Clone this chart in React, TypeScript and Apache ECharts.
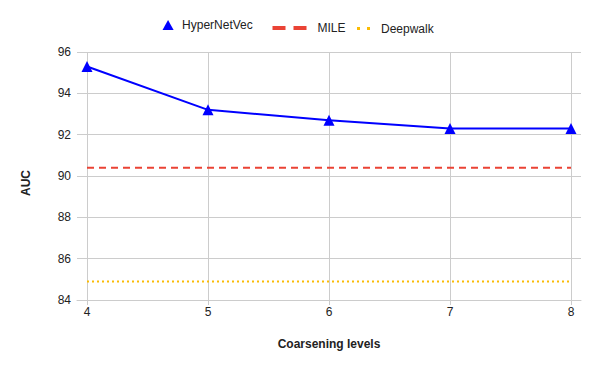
import React, { useEffect, useRef } from "react";
import * as echarts from "echarts";

const levels = [4, 5, 6, 7, 8];
const hyperNetVec = [95.3, 93.2, 92.7, 92.3, 92.3];
const mile = [90.4, 90.4, 90.4, 90.4, 90.4];
const deepwalk = [84.9, 84.9, 84.9, 84.9, 84.9];
const seriesNames = ["HyperNetVec", "MILE", "Deepwalk"];
const xName = "Coarsening levels";
const yName = "AUC";

const FONT = "'Liberation Sans', Arial, sans-serif";
const BLUE = "#0000ff";
const RED = "#ea4335";
const YELLOW = "#fbbc04";
const GRID = "#cccccc";

export default function App() {
  const ref = useRef<HTMLDivElement>(null);
  useEffect(() => {
    if (!ref.current) return;
    const chart = echarts.init(ref.current, null, { renderer: "svg" });
    const pair = (vals: number[]) => levels.map((l, i) => [l, vals[i]]);
    const textStyle = { fontFamily: FONT, fontSize: 12, color: "#222" };
    chart.setOption({
      animation: false,
      backgroundColor: "#fff",
      textStyle: { fontFamily: FONT },
      legend: [
        {
          left: 162.5,
          top: 19,
          padding: 0,
          itemWidth: 18,
          itemHeight: 10,
          textStyle,
          data: [{ name: seriesNames[0], icon: "path://M5,0L10,9L0,9Z", itemStyle: { borderWidth: 0 } }],
        },
        {
          left: 272.5,
          top: 22,
          padding: 0,
          itemWidth: 34,
          itemHeight: 4,
          formatter: (n: string) => "\u2002" + n,
          textStyle,
          data: [{ name: seriesNames[1], icon: "path://M0,0h13v4h-13z M21,0h13v4h-13z", itemStyle: { borderWidth: 0 } }],
        },
        {
          left: 357,
          top: 22.5,
          padding: 0,
          itemWidth: 13,
          itemHeight: 3,
          formatter: (n: string) => "\u2002" + n,
          textStyle,
          data: [{ name: seriesNames[2], icon: "path://M0,0h3v3h-3z M10,0h3v3h-3z", itemStyle: { borderWidth: 0 } }],
        },
      ],
      grid: [
        { left: 77, right: 19, top: 52, bottom: 71 },
        { left: 87, right: 29, top: 52, bottom: 71 },
      ],
      xAxis: [
        {
          gridIndex: 0,
          type: "value",
          min: 0,
          max: 1,
          axisLabel: { show: false },
          axisTick: { show: false },
          splitLine: { show: false },
          axisLine: { show: true, lineStyle: { color: GRID, width: 1 } },
          name: xName,
          nameLocation: "middle",
          nameGap: 38,
          nameTextStyle: { fontFamily: FONT, fontSize: 12, fontWeight: "bold", color: "#222" },
        },
        {
          gridIndex: 1,
          type: "value",
          min: 4,
          max: 8,
          interval: 1,
          axisLine: { show: false },
          axisTick: { show: true, length: 5, lineStyle: { color: GRID } },
          axisLabel: { margin: 6, fontFamily: FONT, fontSize: 12, color: "#222" },
          splitLine: { show: true, lineStyle: { color: GRID, width: 1 } },
        },
      ],
      yAxis: [
        {
          gridIndex: 0,
          type: "value",
          min: 84,
          max: 96,
          interval: 2,
          axisLine: { show: false },
          axisTick: { show: false },
          axisLabel: { margin: 6, fontFamily: FONT, fontSize: 12, color: "#222" },
          splitLine: { show: true, lineStyle: { color: GRID, width: 1 } },
          name: yName,
          nameLocation: "middle",
          nameGap: 45,
          nameTextStyle: { fontFamily: FONT, fontSize: 12, fontWeight: "bold", color: "#222", padding: [0, 14, 0, 0] },
        },
        {
          gridIndex: 1,
          type: "value",
          min: 84,
          max: 96,
          show: false,
        },
      ],
      series: [
        {
          name: seriesNames[0],
          type: "line",
          xAxisIndex: 1,
          yAxisIndex: 1,
          data: pair(hyperNetVec),
          symbol: "triangle",
          symbolSize: 11,
          color: BLUE,
          itemStyle: { color: BLUE, borderWidth: 0 },
          lineStyle: { color: BLUE, width: 2 },
          z: 5,
        },
        {
          name: seriesNames[1],
          type: "line",
          xAxisIndex: 1,
          yAxisIndex: 1,
          data: pair(mile),
          symbol: "none",
          color: RED,
          itemStyle: { color: RED },
          lineStyle: { color: RED, width: 2, type: [7, 5] },
          z: 4,
        },
        {
          name: seriesNames[2],
          type: "line",
          xAxisIndex: 1,
          yAxisIndex: 1,
          data: pair(deepwalk),
          symbol: "none",
          color: YELLOW,
          itemStyle: { color: YELLOW },
          lineStyle: { color: YELLOW, width: 2, type: [2, 3] },
          z: 4,
        },
      ],
    });
    return () => chart.dispose();
  }, []);
  return <div ref={ref} style={{ width: 600, height: 371, position: "absolute", left: 0, top: 0 }} />;
}
